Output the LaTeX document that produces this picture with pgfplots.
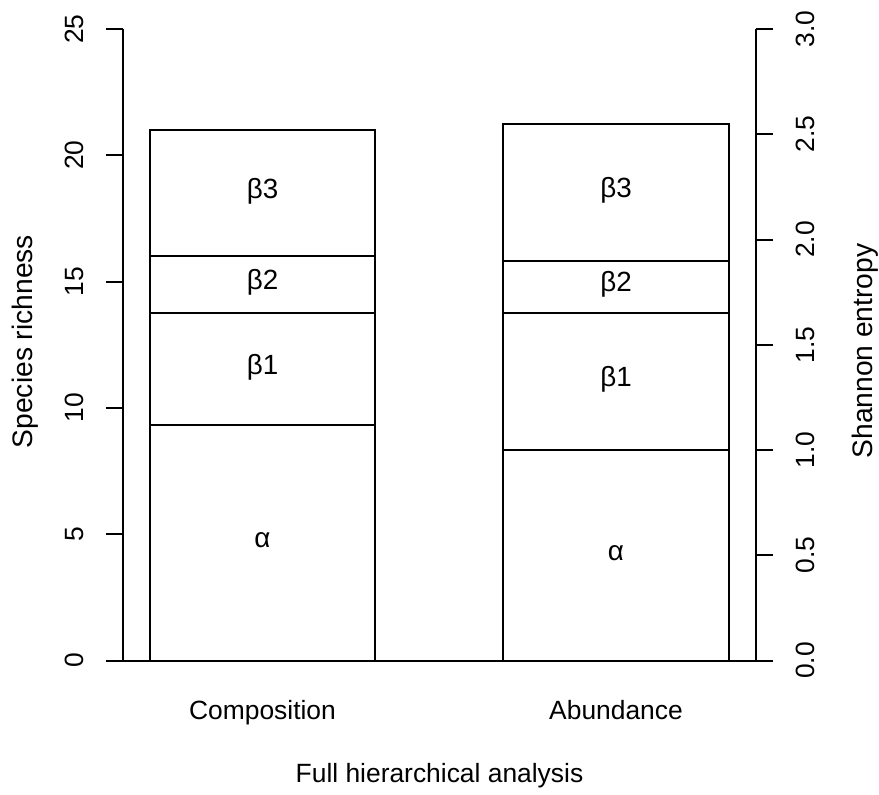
\documentclass[border=0pt]{standalone}
\usepackage{pgfplots}
\usepackage{pgfplotstable}
\pgfplotsset{compat=1.18}
\usepackage{fontspec}
\setmainfont{Liberation Sans}
\newcommand{\rf}{\fontsize{13.2}{15.8}\selectfont}
\newcommand{\labfont}{\fontsize{14.1}{16.9}\selectfont}
\newcommand{\segfont}{\fontsize{13.9}{16.7}\selectfont}

\pgfplotstableread{
x a b1 b2 b3
0 9.32 4.44 2.24 5.0
}\comp
\pgfplotstableread{
x a b1 b2 b3
1 1.0 0.651 0.247 0.651
}\abun

\pgfplotsset{
  common/.style={
    at={(0,0)}, anchor=south west,
    scale only axis, width=316.5pt, height=315.75pt,
    xmin=-0.3946, xmax=1.396,
    ybar stacked, bar width=0.638,
    tick align=outside, major tick length=8.5pt,
    axis line style={-, line width=1pt, black},
    every tick/.style={line width=1pt, black},
    tick label style={font=\rf},
    /pgf/number format/assume math mode=true,
    clip=false,
  },
  seg/.style={fill=white, draw=black, line width=1pt},
}

\begin{document}
\begin{tikzpicture}[font=\rf]
\path[use as bounding box] (-61.5pt,-66.75pt) rectangle (378pt,330.25pt);
\begin{axis}[
  common,
  ymin=0, ymax=25,
  axis y line*=left, axis x line*=bottom,
  x axis line style={draw=none},
  xtick={0,1}, xticklabels={Composition,Abundance},
  major x tick style={draw=none},
  xticklabel style={anchor=base, yshift=-20.75pt},
  ytick={0,5,10,15,20,25},
  yticklabel style={xshift=-11pt, rotate=90, anchor=base},
]
\addplot[seg] table[x=x,y=a]{\comp};
\addplot[seg] table[x=x,y=b1]{\comp};
\addplot[seg] table[x=x,y=b2]{\comp};
\addplot[seg] table[x=x,y=b3]{\comp};
\end{axis}
\begin{axis}[
  common,
  ymin=0, ymax=3,
  axis y line*=right, axis x line=none,
  ytick={0,0.5,1,1.5,2,2.5,3},
  yticklabel={\pgfmathprintnumber[fixed,fixed zerofill,precision=1]{\tick}},
  yticklabel style={xshift=20.5pt, rotate=90, anchor=base},
]
\addplot[seg] table[x=x,y=a]{\abun};
\addplot[seg] table[x=x,y=b1]{\abun};
\addplot[seg] table[x=x,y=b2]{\abun};
\addplot[seg] table[x=x,y=b3]{\abun};
\end{axis}
% labels layer (same geometry, left-axis units)
\begin{axis}[
  at={(0,0)}, anchor=south west,
  scale only axis, width=316.5pt, height=315.75pt,
  xmin=-0.3946, xmax=1.396, ymin=0, ymax=25,
  hide axis, clip=false,
]
\draw[line width=1pt] (rel axis cs:-0.0269,0) -- (rel axis cs:1.0253,0);
\node[font=\segfont, anchor=base, yshift=-2.5pt] at (axis cs:0,4.66) {α};
\node[font=\segfont, anchor=base, yshift=-2.5pt] at (axis cs:0,11.54) {β1};
\node[font=\segfont, anchor=base, yshift=-2.5pt] at (axis cs:0,14.88) {β2};
\node[font=\segfont, anchor=base, yshift=-2.5pt] at (axis cs:0,18.5) {β3};
\node[font=\segfont, anchor=base, yshift=-2.5pt] at (axis cs:1,4.167) {α};
\node[font=\segfont, anchor=base, yshift=-2.5pt] at (axis cs:1,11.046) {β1};
\node[font=\segfont, anchor=base, yshift=-2.5pt] at (axis cs:1,14.788) {β2};
\node[font=\segfont, anchor=base, yshift=-2.5pt] at (axis cs:1,18.529) {β3};
\node[font=\labfont, xshift=-45pt, rotate=90, anchor=base] at (axis description cs:0,0.505) {Species richness};
\node[font=\labfont, xshift=58pt, rotate=90, anchor=base] at (axis description cs:1,0.49) {Shannon entropy};
\node[anchor=base, yshift=-60.75pt] at (axis description cs:0.5,0) {Full hierarchical analysis};
\end{axis}
\end{tikzpicture}
\end{document}
